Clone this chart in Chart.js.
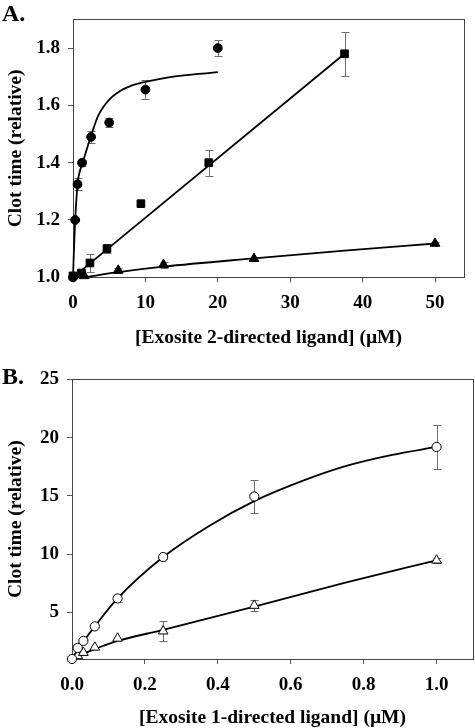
<!DOCTYPE html>
<html>
<head>
<meta charset="utf-8">
<script src="https://cdn.jsdelivr.net/npm/chart.js@4.4.1/dist/chart.umd.min.js"></script>
<style>
  html, body { margin: 0; padding: 0; background: #fff; overflow: hidden; }
  #wrap { position: relative; width: 475px; height: 728px; }
  canvas { position: absolute; left: 0; }
  #chartA { top: 0; }
  #chartB { top: 360px; }
  .tag { position: absolute; left: 2px; font: bold 24px 'Liberation Serif', serif; line-height: 24px; }
</style>
</head>
<body>
<div id="wrap">
  <canvas id="chartA" width="475" height="360"></canvas>
  <canvas id="chartB" width="475" height="368"></canvas>
  <div class="tag" style="top:1px">A.</div>
  <div class="tag" style="top:364px">B.</div>
</div>
<script>
// panel A: exosite 2 ligands
const xCircA = [0, 0.3125, 0.625, 1.25, 2.5, 5, 10, 20];
const yCircA = [1.0, 1.2, 1.325, 1.4, 1.49, 1.54, 1.655, 1.8];
const eCircA = [0, 0, 0.022, 0.01, 0.02, 0.015, 0.033, 0.029];
const xSqA = [0, 1.17, 2.34, 4.69, 9.38, 18.75, 37.5];
const ySqA = [1.005, 1.015, 1.05, 1.1, 1.257, 1.4, 1.78];
const eSqA = [0, 0.008, 0.031, 0.015, 0, 0.045, 0.077];
const xTriA = [1.56, 6.25, 12.5, 25, 50];
const yTriA = [1.005, 1.024, 1.044, 1.065, 1.118];
const eTriA = [0, 0.008, 0.01, 0, 0.005];
const fitCircAx = [0, 0.15, 0.3, 0.65, 1.0, 1.4, 2.0, 2.5, 3.5, 5, 6.5, 8, 10, 13, 17, 20];
const fitCircAy = [1.0, 1.11, 1.2, 1.33, 1.375, 1.405, 1.455, 1.495, 1.565, 1.62, 1.65, 1.668, 1.682, 1.697, 1.709, 1.716];
const fitSqAx = [1.17, 37.5];
const fitSqAy = [1.024, 1.78];
const fitTriAx = [1.56, 6.25, 12.5, 25, 37.5, 50];
const fitTriAy = [1.0, 1.018, 1.037, 1.066, 1.093, 1.118];
const xTicksA = [0, 10, 20, 30, 40, 50];
const yTicksA = [1.0, 1.2, 1.4, 1.6, 1.8];

// panel B: exosite 1 ligands
const xCircB = [0, 0.0156, 0.03125, 0.0625, 0.125, 0.25, 0.5, 1.0];
const yCircB = [1.0, 1.95, 2.55, 3.8, 6.2, 9.75, 14.95, 19.2];
const eCircB = [0, 0, 0, 0, 0.3, 0.15, 1.42, 1.9];
const xTriB = [0.0156, 0.03125, 0.0625, 0.125, 0.25, 0.5, 1.0];
const yTriB = [1.27, 1.55, 2.0, 2.77, 3.39, 5.59, 9.47];
const eTriB = [0, 0, 0, 0, 0.85, 0.45, 0.2];
const fitCircBx = [0, 0.0156, 0.03125, 0.0625, 0.125, 0.25, 0.375, 0.5, 0.625, 0.75, 0.875, 1.0];
const fitCircBy = [1.0, 1.8, 2.5, 3.8, 6.2, 9.75, 12.4, 14.55, 16.2, 17.55, 18.5, 19.2];
const fitTriBx = [0, 0.03125, 0.0625, 0.125, 0.25, 0.5, 0.75, 1.0];
const fitTriBy = [1.0, 1.45, 1.85, 2.55, 3.5, 5.5, 7.55, 9.47];
const xTicksB = [0, 0.2, 0.4, 0.6, 0.8, 1.0];
const yTicksB = [5, 10, 15, 20, 25];

const pts = (xs, ys) => xs.map((x, i) => ({x: x, y: ys[i]}));

const serif = "'Liberation Serif', 'Times New Roman', serif";
const tickFont = {family: serif, size: 19, weight: 'bold'};
const titleFont = {family: serif, size: 19.5, weight: 'bold', lineHeight: 1};

const errorBars = {
  id: 'errorBars',
  beforeDatasetsDraw(chart) {
    const ctx = chart.ctx;
    const xs = chart.scales.x, ys = chart.scales.y;
    ctx.save();
    ctx.strokeStyle = '#6e6e6e';
    ctx.lineWidth = 1;
    chart.data.datasets.forEach(ds => {
      if (!ds.errors) return;
      ds.data.forEach((p, j) => {
        const e = ds.errors[j];
        if (!e) return;
        const px = Math.round(xs.getPixelForValue(p.x)) + 0.5;
        const top = Math.round(ys.getPixelForValue(p.y + e)) + 0.5;
        const bot = Math.round(ys.getPixelForValue(p.y - e)) + 0.5;
        ctx.beginPath();
        ctx.moveTo(px, top); ctx.lineTo(px, bot);
        ctx.moveTo(px - 4, top); ctx.lineTo(px + 4, top);
        ctx.moveTo(px - 4, bot); ctx.lineTo(px + 4, bot);
        ctx.stroke();
      });
    });
    ctx.restore();
  }
};

const frame = {
  id: 'frame',
  beforeDatasetsDraw(chart) {
    const a = chart.chartArea, ctx = chart.ctx;
    ctx.save();
    ctx.strokeStyle = '#444';
    ctx.lineWidth = 1;
    ctx.strokeRect(Math.round(a.left) + 0.5, Math.round(a.top) + 0.5,
      Math.round(a.right - a.left), Math.round(a.bottom - a.top));
    ctx.restore();
  }
};

function pointSet(xs, ys, errs, style, r, fill) {
  return {
    data: pts(xs, ys), errors: errs, showLine: false, pointStyle: style,
    pointRadius: r, pointBorderWidth: 1, pointBackgroundColor: fill,
    pointBorderColor: '#000', clip: false
  };
}
function lineSet(xs, ys, smooth) {
  return {
    data: pts(xs, ys), showLine: true, pointRadius: 0, borderColor: '#000',
    borderWidth: 1.8, cubicInterpolationMode: smooth ? 'monotone' : 'default', clip: false
  };
}

function makeScales(o) {
  const grid = {display: true, drawOnChartArea: false, drawTicks: true, tickLength: 5, tickColor: '#555'};
  return {
    x: {
      type: 'linear', min: o.xMin, max: o.xMax,
      afterBuildTicks: s => { s.ticks = o.xTicks.map(v => ({value: v})); },
      afterFit: s => { s.height = o.xHeight; },
      grid: grid, border: {display: false},
      ticks: {padding: o.xPad, color: '#000', font: tickFont, maxRotation: 0, callback: o.xFmt},
      title: {display: true, text: o.xTitle, color: '#000', font: titleFont, padding: {top: 0, bottom: o.xTitlePad}}
    },
    y: {
      type: 'linear', min: o.yMin, max: o.yMax,
      afterBuildTicks: s => { s.ticks = o.yTicks.map(v => ({value: v})); },
      afterFit: s => { s.width = o.yWidth; },
      grid: grid, border: {display: false},
      ticks: {padding: 8, color: '#000', font: tickFont, callback: o.yFmt},
      title: {display: true, text: 'Clot time (relative)', color: '#000', font: titleFont, padding: {top: 6.2, bottom: 0}}
    }
  };
}

const common = {
  responsive: false, animation: false,
  plugins: {legend: {display: false}, tooltip: {enabled: false}},
  events: []
};

new Chart(document.getElementById('chartA'), {
  type: 'scatter',
  data: {
    datasets: [
      pointSet(xCircA, yCircA, eCircA, 'circle', 4.4, '#000'),
      pointSet(xSqA, ySqA, eSqA, 'rect', 5.4, '#000'),
      pointSet(xTriA, yTriA, eTriA, 'triangle', 5.6, '#000'),
      lineSet(fitCircAx, fitCircAy, true),
      lineSet(fitSqAx, fitSqAy, false),
      lineSet(fitTriAx, fitTriAy, true)
    ]
  },
  options: Object.assign({}, common, {
    layout: {autoPadding: false, padding: {top: 4, right: 11, left: 0, bottom: 0}},
    scales: makeScales({
      xMin: 0, xMax: 54, xTicks: xTicksA, xHeight: 82.7, xPad: 9.3,
      xFmt: v => String(v), xTitle: '[Exosite 2-directed ligand] (\u00b5M)', xTitlePad: 12.2,
      yMin: 1.0, yMax: 1.9, yTicks: yTicksA, yWidth: 73, yFmt: v => v.toFixed(1)
    })
  }),
  plugins: [frame, errorBars]
});

new Chart(document.getElementById('chartB'), {
  type: 'scatter',
  data: {
    datasets: [
      pointSet(xCircB, yCircB, eCircB, 'circle', 4.6, '#fff'),
      pointSet(xTriB, yTriB, eTriB, 'triangle', 5.6, '#fff'),
      lineSet(fitCircBx, fitCircBy, true),
      lineSet(fitTriBx, fitTriBy, true)
    ]
  },
  options: Object.assign({}, common, {
    layout: {autoPadding: false, padding: {top: 16, right: 2, left: 0, bottom: 0}},
    scales: makeScales({
      xMin: 0, xMax: 1.1, xTicks: xTicksB, xHeight: 69, xPad: 9.6,
      xFmt: v => v.toFixed(1), xTitle: '[Exosite 1-directed ligand] (\u00b5M)', xTitlePad: 0.2,
      yMin: 1, yMax: 25, yTicks: yTicksB, yWidth: 72, yFmt: v => String(v)
    })
  }),
  plugins: [frame, errorBars]
});
</script>
</body>
</html>
